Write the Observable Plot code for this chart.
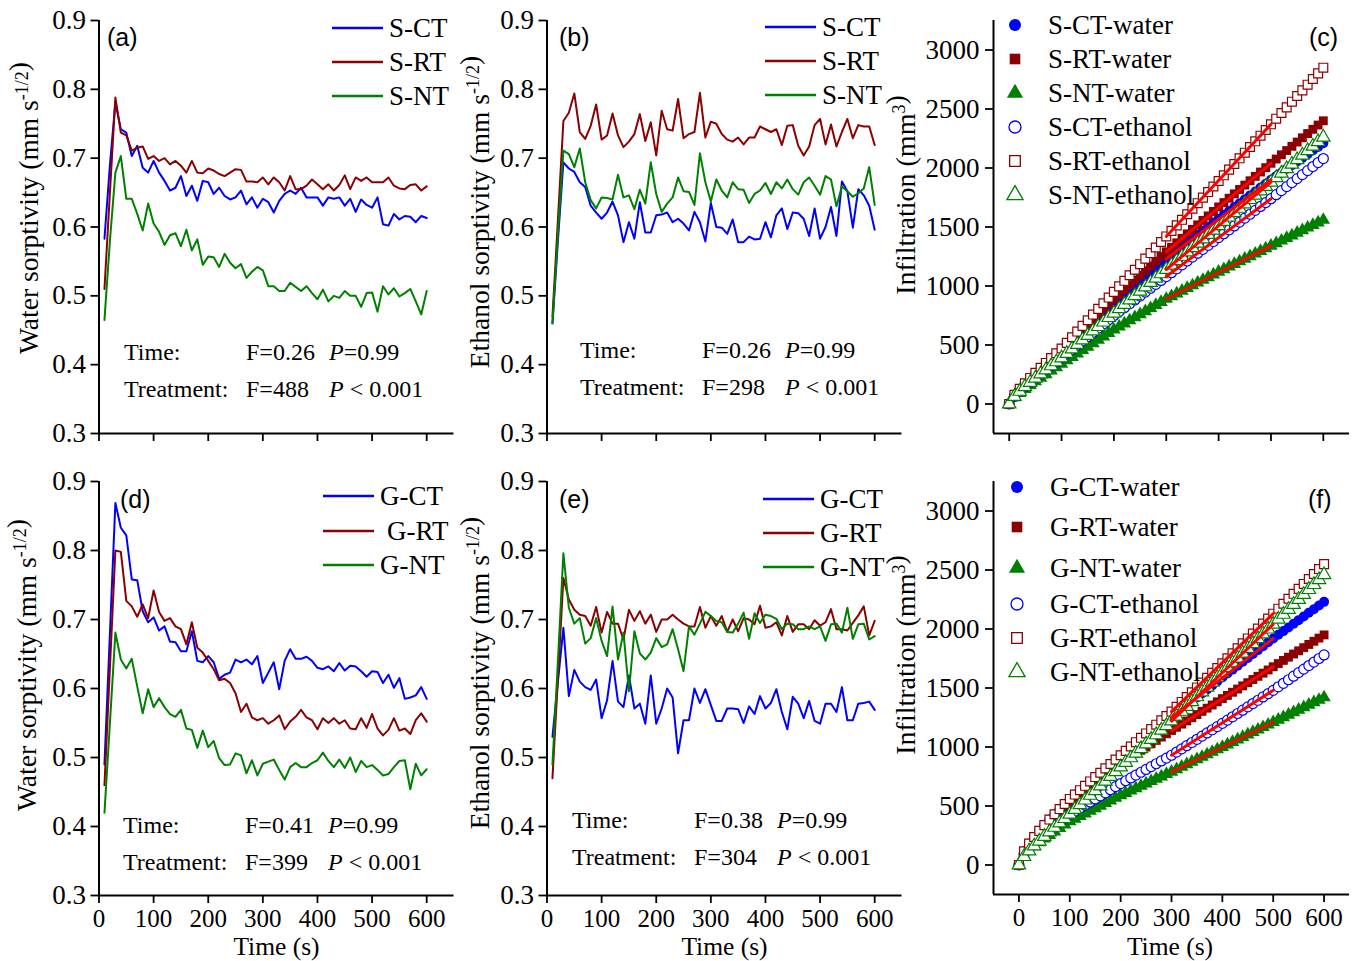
<!DOCTYPE html>
<html><head><meta charset="utf-8">
<script src="https://cdn.jsdelivr.net/npm/d3@7"></script>
<script src="https://cdn.jsdelivr.net/npm/@observablehq/plot@0.6"></script>
<style>
body{margin:0;background:#fff;}
#root{position:relative;width:1355px;height:961px;overflow:hidden;background:#fff;}
#root svg{position:absolute;left:0;top:0;}
</style></head><body><div id="root"></div>
<script>
// ---------- sorptivity data (time in s) ----------
const time = [10,20,30,40,50,60,70,80,90,100,110,120,130,140,150,160,170,180,190,200,210,220,230,240,250,260,270,280,290,300,310,320,330,340,350,360,370,380,390,400,410,420,430,440,450,460,470,480,490,500,510,520,530,540,550,560,570,580,590,600];
const aCT = [0.583,0.69,0.781,0.742,0.737,0.703,0.718,0.686,0.679,0.696,0.679,0.667,0.653,0.657,0.674,0.645,0.660,0.638,0.667,0.665,0.648,0.657,0.645,0.640,0.643,0.653,0.633,0.643,0.628,0.641,0.636,0.621,0.638,0.648,0.653,0.648,0.657,0.643,0.643,0.643,0.631,0.643,0.641,0.643,0.631,0.641,0.622,0.640,0.632,0.628,0.643,0.604,0.602,0.619,0.611,0.616,0.615,0.607,0.616,0.613];
const aRT = [0.51,0.65,0.788,0.737,0.733,0.711,0.715,0.717,0.699,0.703,0.696,0.700,0.691,0.696,0.689,0.679,0.696,0.679,0.678,0.685,0.682,0.677,0.674,0.679,0.684,0.683,0.666,0.666,0.665,0.672,0.662,0.672,0.665,0.653,0.674,0.655,0.655,0.660,0.669,0.662,0.655,0.662,0.653,0.661,0.675,0.655,0.672,0.667,0.672,0.665,0.665,0.665,0.672,0.660,0.656,0.655,0.661,0.662,0.653,0.659];
const aNT = [0.465,0.58,0.679,0.703,0.641,0.641,0.619,0.595,0.634,0.605,0.593,0.574,0.588,0.591,0.572,0.596,0.566,0.582,0.545,0.557,0.556,0.542,0.561,0.548,0.540,0.546,0.526,0.535,0.542,0.537,0.514,0.514,0.507,0.507,0.519,0.513,0.507,0.514,0.504,0.495,0.509,0.492,0.500,0.497,0.507,0.500,0.500,0.484,0.504,0.505,0.477,0.514,0.502,0.511,0.499,0.504,0.510,0.492,0.473,0.507];
const bCT = [0.46,0.58,0.694,0.685,0.680,0.665,0.658,0.631,0.621,0.612,0.621,0.637,0.617,0.578,0.607,0.583,0.636,0.592,0.592,0.617,0.618,0.621,0.607,0.612,0.605,0.595,0.622,0.607,0.579,0.635,0.600,0.599,0.590,0.611,0.578,0.578,0.586,0.582,0.583,0.607,0.585,0.617,0.627,0.597,0.621,0.620,0.612,0.587,0.627,0.583,0.600,0.629,0.587,0.666,0.652,0.599,0.655,0.646,0.631,0.596];
const bRT = [0.47,0.61,0.754,0.766,0.794,0.738,0.728,0.747,0.778,0.727,0.733,0.765,0.733,0.716,0.724,0.735,0.764,0.725,0.752,0.704,0.769,0.742,0.740,0.786,0.729,0.735,0.738,0.795,0.730,0.753,0.750,0.735,0.727,0.724,0.730,0.720,0.730,0.730,0.746,0.742,0.738,0.742,0.719,0.747,0.748,0.718,0.704,0.717,0.748,0.757,0.720,0.749,0.717,0.738,0.757,0.729,0.748,0.746,0.746,0.719];
const bNT = [0.46,0.59,0.711,0.706,0.687,0.714,0.665,0.639,0.627,0.643,0.642,0.640,0.676,0.643,0.646,0.626,0.654,0.634,0.694,0.648,0.622,0.634,0.643,0.672,0.652,0.651,0.632,0.707,0.665,0.637,0.669,0.653,0.643,0.665,0.655,0.654,0.635,0.648,0.653,0.664,0.648,0.665,0.656,0.669,0.655,0.647,0.665,0.672,0.660,0.647,0.674,0.669,0.630,0.659,0.652,0.644,0.649,0.656,0.687,0.632];
const dCT = [0.49,0.68,0.869,0.833,0.822,0.758,0.757,0.712,0.696,0.703,0.684,0.690,0.668,0.667,0.654,0.654,0.683,0.640,0.638,0.647,0.638,0.614,0.620,0.623,0.642,0.638,0.642,0.635,0.647,0.608,0.623,0.638,0.599,0.640,0.657,0.643,0.643,0.646,0.640,0.630,0.628,0.632,0.625,0.637,0.626,0.633,0.632,0.625,0.617,0.625,0.624,0.608,0.620,0.601,0.615,0.585,0.587,0.590,0.602,0.585];
const dRT = [0.46,0.63,0.80,0.798,0.727,0.719,0.704,0.722,0.702,0.742,0.711,0.698,0.702,0.690,0.686,0.664,0.696,0.659,0.652,0.640,0.628,0.612,0.614,0.608,0.593,0.566,0.578,0.558,0.554,0.557,0.549,0.554,0.561,0.541,0.552,0.559,0.569,0.558,0.554,0.541,0.557,0.550,0.557,0.549,0.554,0.542,0.541,0.557,0.543,0.563,0.542,0.532,0.540,0.557,0.539,0.542,0.534,0.554,0.564,0.552];
const dNT = [0.42,0.55,0.681,0.642,0.629,0.643,0.603,0.564,0.599,0.573,0.586,0.573,0.563,0.559,0.569,0.542,0.540,0.514,0.539,0.515,0.524,0.499,0.489,0.490,0.506,0.503,0.477,0.496,0.474,0.491,0.494,0.497,0.482,0.468,0.486,0.492,0.486,0.486,0.492,0.496,0.507,0.495,0.486,0.497,0.485,0.500,0.479,0.495,0.486,0.489,0.482,0.474,0.476,0.486,0.495,0.496,0.454,0.491,0.474,0.483];
const eCT = [0.53,0.61,0.688,0.589,0.627,0.610,0.602,0.598,0.613,0.557,0.583,0.640,0.581,0.573,0.619,0.571,0.578,0.549,0.619,0.549,0.571,0.600,0.587,0.506,0.554,0.554,0.600,0.579,0.599,0.576,0.553,0.553,0.571,0.571,0.570,0.550,0.574,0.563,0.589,0.571,0.579,0.599,0.566,0.541,0.588,0.578,0.557,0.582,0.553,0.549,0.578,0.578,0.566,0.602,0.554,0.554,0.578,0.579,0.581,0.569];
const eRT = [0.47,0.615,0.760,0.729,0.714,0.707,0.705,0.691,0.718,0.681,0.711,0.694,0.694,0.671,0.714,0.698,0.712,0.694,0.707,0.682,0.700,0.700,0.707,0.700,0.694,0.690,0.690,0.718,0.688,0.705,0.691,0.705,0.682,0.700,0.683,0.702,0.700,0.693,0.720,0.688,0.690,0.696,0.677,0.705,0.682,0.693,0.693,0.686,0.699,0.691,0.696,0.715,0.686,0.686,0.684,0.695,0.706,0.719,0.677,0.698];
const eNT = [0.49,0.64,0.796,0.717,0.694,0.702,0.665,0.673,0.702,0.669,0.647,0.719,0.642,0.681,0.596,0.683,0.651,0.642,0.652,0.673,0.660,0.664,0.686,0.657,0.625,0.690,0.678,0.694,0.711,0.705,0.698,0.696,0.682,0.681,0.694,0.710,0.672,0.709,0.695,0.707,0.705,0.701,0.686,0.694,0.693,0.686,0.686,0.690,0.686,0.690,0.669,0.693,0.694,0.681,0.717,0.672,0.693,0.694,0.671,0.676];

// ---------- infiltration data (mm^3) ----------
const tInf = [0,10,20,30,40,50,60,70,80,90,100,110,120,130,140,150,160,170,180,190,200,210,220,230,240,250,260,270,280,290,300,310,320,330,340,350,360,370,380,390,400,410,420,430,440,450,460,470,480,490,500,510,520,530,540,550,560,570,580,590,600];
const sCTwater = [0,76,126,172,216,259,300,341,381,421,460,500,540,580,620,660,700,740,780,820,860,897,934,971,1008,1045,1082,1119,1156,1193,1230,1264,1298,1332,1366,1400,1434,1468,1502,1536,1570,1603,1636,1669,1702,1735,1768,1801,1834,1867,1900,1931,1962,1993,2024,2055,2086,2117,2148,2179,2210];
const sRTwater = [0,78,129,176,221,264,306,348,389,430,470,512,554,596,638,680,722,764,806,848,890,930,970,1010,1050,1090,1130,1170,1210,1250,1290,1328,1366,1404,1442,1480,1518,1556,1594,1632,1670,1707,1744,1781,1818,1855,1892,1929,1966,2003,2040,2076,2112,2148,2184,2220,2256,2292,2328,2364,2400];
const sNTwater = [0,56,93,127,160,191,222,252,282,311,340,369,398,427,456,485,514,543,572,601,630,656,682,708,734,760,786,812,838,864,890,913,936,959,982,1005,1028,1051,1074,1097,1120,1142,1164,1186,1208,1230,1252,1274,1296,1318,1340,1362,1384,1406,1428,1450,1472,1494,1516,1538,1560];
const sCTethanol = [0,64,107,146,183,219,254,289,323,357,390,426,462,498,534,570,606,642,678,714,750,783,816,849,882,915,948,981,1014,1047,1080,1113,1146,1179,1212,1245,1278,1311,1344,1377,1410,1443,1476,1509,1542,1575,1608,1641,1674,1707,1740,1774,1808,1842,1876,1910,1944,1978,2012,2046,2080];
const sRTethanol = [0,78,129,176,221,264,306,348,389,430,470,518,566,614,662,710,758,806,854,902,950,997,1044,1091,1138,1185,1232,1279,1326,1373,1420,1467,1514,1561,1608,1655,1702,1749,1796,1843,1890,1938,1986,2034,2082,2130,2178,2226,2274,2322,2370,2418,2466,2514,2562,2610,2658,2706,2754,2802,2850];
const sNTethanol = [0,64,107,146,183,219,254,289,323,357,390,428,466,504,542,580,618,656,694,732,770,807,844,881,918,955,992,1029,1066,1103,1140,1177,1214,1251,1288,1325,1362,1399,1436,1473,1510,1547,1584,1621,1658,1695,1732,1769,1806,1843,1880,1918,1956,1994,2032,2070,2108,2146,2184,2222,2260];
const gCTwater = [0,116,181,237,289,338,385,430,474,517,560,595,630,665,700,735,770,805,840,875,910,944,978,1012,1046,1080,1114,1148,1182,1216,1250,1284,1318,1352,1386,1420,1454,1488,1522,1556,1590,1623,1656,1689,1722,1755,1788,1821,1854,1887,1920,1951,1982,2013,2044,2075,2106,2137,2168,2199,2230];
const gRTwater = [0,110,172,225,273,320,364,407,449,490,530,563,596,629,662,695,728,761,794,827,860,888,916,944,972,1000,1028,1056,1084,1112,1140,1167,1194,1221,1248,1275,1302,1329,1356,1383,1410,1437,1464,1491,1518,1545,1572,1599,1626,1653,1680,1707,1734,1761,1788,1815,1842,1869,1896,1923,1950];
const gNTwater = [0,77,120,157,191,223,254,284,313,342,370,392,414,436,458,480,502,524,546,568,590,610,630,650,670,690,710,730,750,770,790,811,832,853,874,895,916,937,958,979,1000,1021,1042,1063,1084,1105,1126,1147,1168,1189,1210,1231,1252,1273,1294,1315,1336,1357,1378,1399,1420];
const gCTethanol = [0,89,139,182,222,260,295,330,364,397,430,456,482,508,534,560,586,612,638,664,690,714,738,762,786,810,834,858,882,906,930,957,984,1011,1038,1065,1092,1119,1146,1173,1200,1228,1256,1284,1312,1340,1368,1396,1424,1452,1480,1510,1540,1570,1600,1630,1660,1690,1720,1750,1780];
const gRTethanol = [0,116,181,237,289,338,385,430,474,517,560,597,634,671,708,745,782,819,856,893,930,967,1004,1041,1078,1115,1152,1189,1226,1263,1300,1341,1382,1423,1464,1505,1546,1587,1628,1669,1710,1752,1794,1836,1878,1920,1962,2004,2046,2088,2130,2172,2214,2256,2298,2340,2382,2424,2466,2508,2550];
const gNTethanol = [0,71,118,161,202,242,280,319,356,393,430,470,510,550,590,630,670,710,750,790,830,869,908,947,986,1025,1064,1103,1142,1181,1220,1261,1302,1343,1384,1425,1466,1507,1548,1589,1630,1671,1712,1753,1794,1835,1876,1917,1958,1999,2040,2082,2124,2166,2208,2250,2292,2334,2376,2418,2460];
const fitStart = 300, fitEnd = 500;

// ---------- ticks & labels ----------
const xTicks = [0,100,200,300,400,500,600];
const sorpTicks = [0.3,0.4,0.5,0.6,0.7,0.8,0.9];
const infTicks = [0,500,1000,1500,2000,2500,3000];
const legS = ["S-CT","S-RT","S-NT"];
const legG = ["G-CT","G-RT","G-NT"];
const legInfS = ["S-CT-water","S-RT-water","S-NT-water","S-CT-ethanol","S-RT-ethanol","S-NT-ethanol"];
const legInfG = ["G-CT-water","G-RT-water","G-NT-water","G-CT-ethanol","G-RT-ethanol","G-NT-ethanol"];
const statsA = ["0.26","0.99","488"], statsB = ["0.26","0.99","298"], statsD = ["0.41","0.99","399"], statsE = ["0.38","0.99","304"];

// ---------- styling ----------
const BLUE = "#0000ff", DRED = "#8b0000", GREEN = "#008000", RED = "#ff0000";
const SERIF = "'Liberation Serif','Times New Roman',serif";
const SANS = "'Liberation Sans',Arial,sans-serif";
const W = 1355, H = 961;
const root = document.getElementById("root");

const rows = (ts, vs) => ts.map((t, i) => ({t, v: vs[i]}));

function panel({xDomain, yDomain, left, right, top, bottom, yFormat, xLabels, yPad, marks}) {
  const svg = Plot.plot({
    width: W, height: H,
    marginLeft: left, marginRight: W - right, marginTop: top, marginBottom: H - bottom,
    x: {domain: xDomain}, y: {domain: yDomain},
    style: {background: "transparent", fontFamily: SERIF, fontSize: "25px", color: "black", overflow: "visible"},
    marks: [
      ...marks,
      Plot.ruleX([xDomain[0]], {strokeWidth: 2}),
      Plot.ruleY([yDomain[0]], {strokeWidth: 2}),
      Plot.axisX({ticks: xTicks, tickSize: 8, tickPadding: 6, strokeWidth: 1.8, fontSize: 25,
        tickFormat: xLabels ? (d => String(d)) : (() => ""), label: null}),
      Plot.axisY({ticks: yFormat === "inf" ? infTicks : sorpTicks, tickSize: 8, tickPadding: yPad, strokeWidth: 1.8, fontSize: 27,
        tickFormat: yFormat === "inf" ? (d => String(d)) : (d => d.toFixed(1)), label: null})
    ]
  });
  root.appendChild(svg);
  return d3.select(svg);
}

function text(g, x, y, parts, o = {}) {
  const t = g.append("text").attr("x", x).attr("y", y)
    .attr("font-family", o.family || SERIF).attr("font-size", o.size || 24).attr("fill", "black")
    .attr("text-anchor", o.anchor || "start");
  if (o.rotate) t.attr("transform", `rotate(-90 ${x} ${y})`);
  for (const p of parts) {
    if (typeof p === "string") t.append("tspan").text(p);
    else if (p.sup) { t.append("tspan").attr("dy", -10).attr("font-size", 18).text(p.sup); t.append("tspan").attr("dy", 10).text(""); }
    else if (p.it) t.append("tspan").attr("font-style", "italic").text(p.it);
  }
  return t;
}

function sorpPanel(cfg) {
  const colors = [BLUE, DRED, GREEN];
  const g = panel({
    xDomain: [0, 650], yDomain: [0.3, 0.9], left: cfg.left, right: cfg.left + 355,
    top: cfg.top, bottom: cfg.bottom, yFormat: "sorp", xLabels: cfg.xLabels, yPad: 5,
    marks: cfg.series.map((s, i) => Plot.line(rows(time, s), {x: "t", y: "v", stroke: colors[i], strokeWidth: 2}))
  });
  cfg.legend.forEach((name, i) => {
    const y = cfg.legY[i];
    g.append("line").attr("x1", cfg.legX).attr("x2", cfg.legX + 51).attr("y1", y).attr("y2", y)
      .attr("stroke", colors[i]).attr("stroke-width", 2.5);
    text(g, cfg.legX + 57 + (cfg.legIndent ? cfg.legIndent[i] : 0), y + 9, [name], {size: 27});
  });
  text(g, cfg.letterX, cfg.letterY, [cfg.letter], {family: SANS, size: 25});
  const [fTime, pTime, fTr] = cfg.stats;
  text(g, cfg.statX, cfg.statY, ["Time:"]);
  text(g, cfg.statX + 122, cfg.statY, ["F=" + fTime]);
  text(g, cfg.statX + 205, cfg.statY, [{it: "P"}, "=" + pTime]);
  text(g, cfg.statX, cfg.statY + 37, ["Treatment:"]);
  text(g, cfg.statX + 122, cfg.statY + 37, ["F=" + fTr]);
  text(g, cfg.statX + 205, cfg.statY + 37, [{it: "P"}, " < 0.001"]);
  text(g, cfg.titleX, cfg.titleY, [cfg.yTitle + " (mm s", {sup: "-1/2"}, ")"], {rotate: true, anchor: "middle", size: 27.5});
  if (cfg.xLabels) text(g, cfg.left + 178, 955, ["Time (s)"], {anchor: "middle", size: 25.5});
  return g;
}

const symbols = ["circle", "square", "triangle", "circle", "square", "triangle"];
const fills = [BLUE, DRED, GREEN, "white", "white", "white"];
const strokes = ["none", "none", "none", BLUE, DRED, GREEN];
const d3sym = {circle: d3.symbolCircle, square: d3.symbolSquare, triangle: d3.symbolTriangle};

function infPanel(cfg) {
  const fitRows = s => [{t: fitStart, v: s[tInf.indexOf(fitStart)]}, {t: fitEnd, v: s[tInf.indexOf(fitEnd)]}];
  const g = panel({
    xDomain: cfg.xDomain, yDomain: [-250, 3250], left: 993, right: 1349,
    top: cfg.top, bottom: cfg.bottom, yFormat: "inf", xLabels: cfg.xLabels, yPad: 6,
    marks: [
      ...cfg.series.map((s, i) => Plot.dot(rows(tInf, s), {x: "t", y: "v", symbol: symbols[i], r: 5,
        fill: fills[i], stroke: strokes[i], strokeWidth: 1.2})),
      ...cfg.series.map(s => Plot.line(fitRows(s), {x: "t", y: "v", stroke: RED, strokeWidth: 3}))
    ]
  });
  cfg.legend.forEach((name, i) => {
    const y = cfg.legY[i];
    g.append("path").attr("transform", `translate(${cfg.legX},${y})`)
      .attr("d", d3.symbol(d3sym[symbols[i]], Math.PI * 6 * 6)())
      .attr("fill", fills[i]).attr("stroke", strokes[i]).attr("stroke-width", 1.3);
    text(g, cfg.legX + 33, y + 9, [name], {size: 27});
  });
  text(g, cfg.letterX, cfg.letterY, [cfg.letter], {family: SANS, size: 25});
  text(g, cfg.titleX, cfg.titleY, ["Infiltration (mm", {sup: "3"}, ")"], {rotate: true, anchor: "middle", size: 28});
  if (cfg.xLabels) text(g, 1170, 955, ["Time (s)"], {anchor: "middle", size: 25.5});
  return g;
}

// (a)
sorpPanel({left: 98.5, top: 20, bottom: 433, xLabels: false, series: [aCT, aRT, aNT],
  legend: legS, legX: 332, legY: [28, 62, 96], letter: "(a)", letterX: 107, letterY: 46,
  stats: statsA, statX: 124, statY: 360, yTitle: "Water sorptivity", titleX: 38, titleY: 208});
// (b)
sorpPanel({left: 546.5, top: 20, bottom: 433, xLabels: false, series: [bCT, bRT, bNT],
  legend: legS, legX: 765, legY: [27, 61, 95], letter: "(b)", letterX: 559, letterY: 46,
  stats: statsB, statX: 580, statY: 358, yTitle: "Ethanol sorptivity", titleX: 489, titleY: 212});
// (d)
sorpPanel({left: 98.5, top: 481, bottom: 895, xLabels: true, series: [dCT, dRT, dNT],
  legend: legG, legIndent: [0, 7, 0], legX: 323, legY: [496, 531, 565], letter: "(d)", letterX: 120, letterY: 508,
  stats: statsD, statX: 123, statY: 833, yTitle: "Water sorptivity", titleX: 36, titleY: 665});
// (e)
sorpPanel({left: 546.5, top: 481, bottom: 895, xLabels: true, series: [eCT, eRT, eNT],
  legend: legG, legX: 763, legY: [499, 533, 567], letter: "(e)", letterX: 559, letterY: 508,
  stats: statsE, statX: 572, statY: 828, yTitle: "Ethanol sorptivity", titleX: 489, titleY: 673});
// (c)
infPanel({xDomain: [-30, 650], top: 20, bottom: 433, xLabels: false,
  series: [sCTwater, sRTwater, sNTwater, sCTethanol, sRTethanol, sNTethanol],
  legend: legInfS, legX: 1015, legY: [25, 59, 93, 127, 161, 195], letter: "(c)", letterX: 1309, letterY: 46,
  titleX: 915, titleY: 195});
// (f)
infPanel({xDomain: [-50, 650], top: 481, bottom: 894, xLabels: true,
  series: [gCTwater, gRTwater, gNTwater, gCTethanol, gRTethanol, gNTethanol],
  legend: legInfG, legX: 1017, legY: [487, 527, 568, 604, 638, 672], letter: "(f)", letterX: 1308, letterY: 508,
  titleX: 915, titleY: 655});
</script>
</body></html>
